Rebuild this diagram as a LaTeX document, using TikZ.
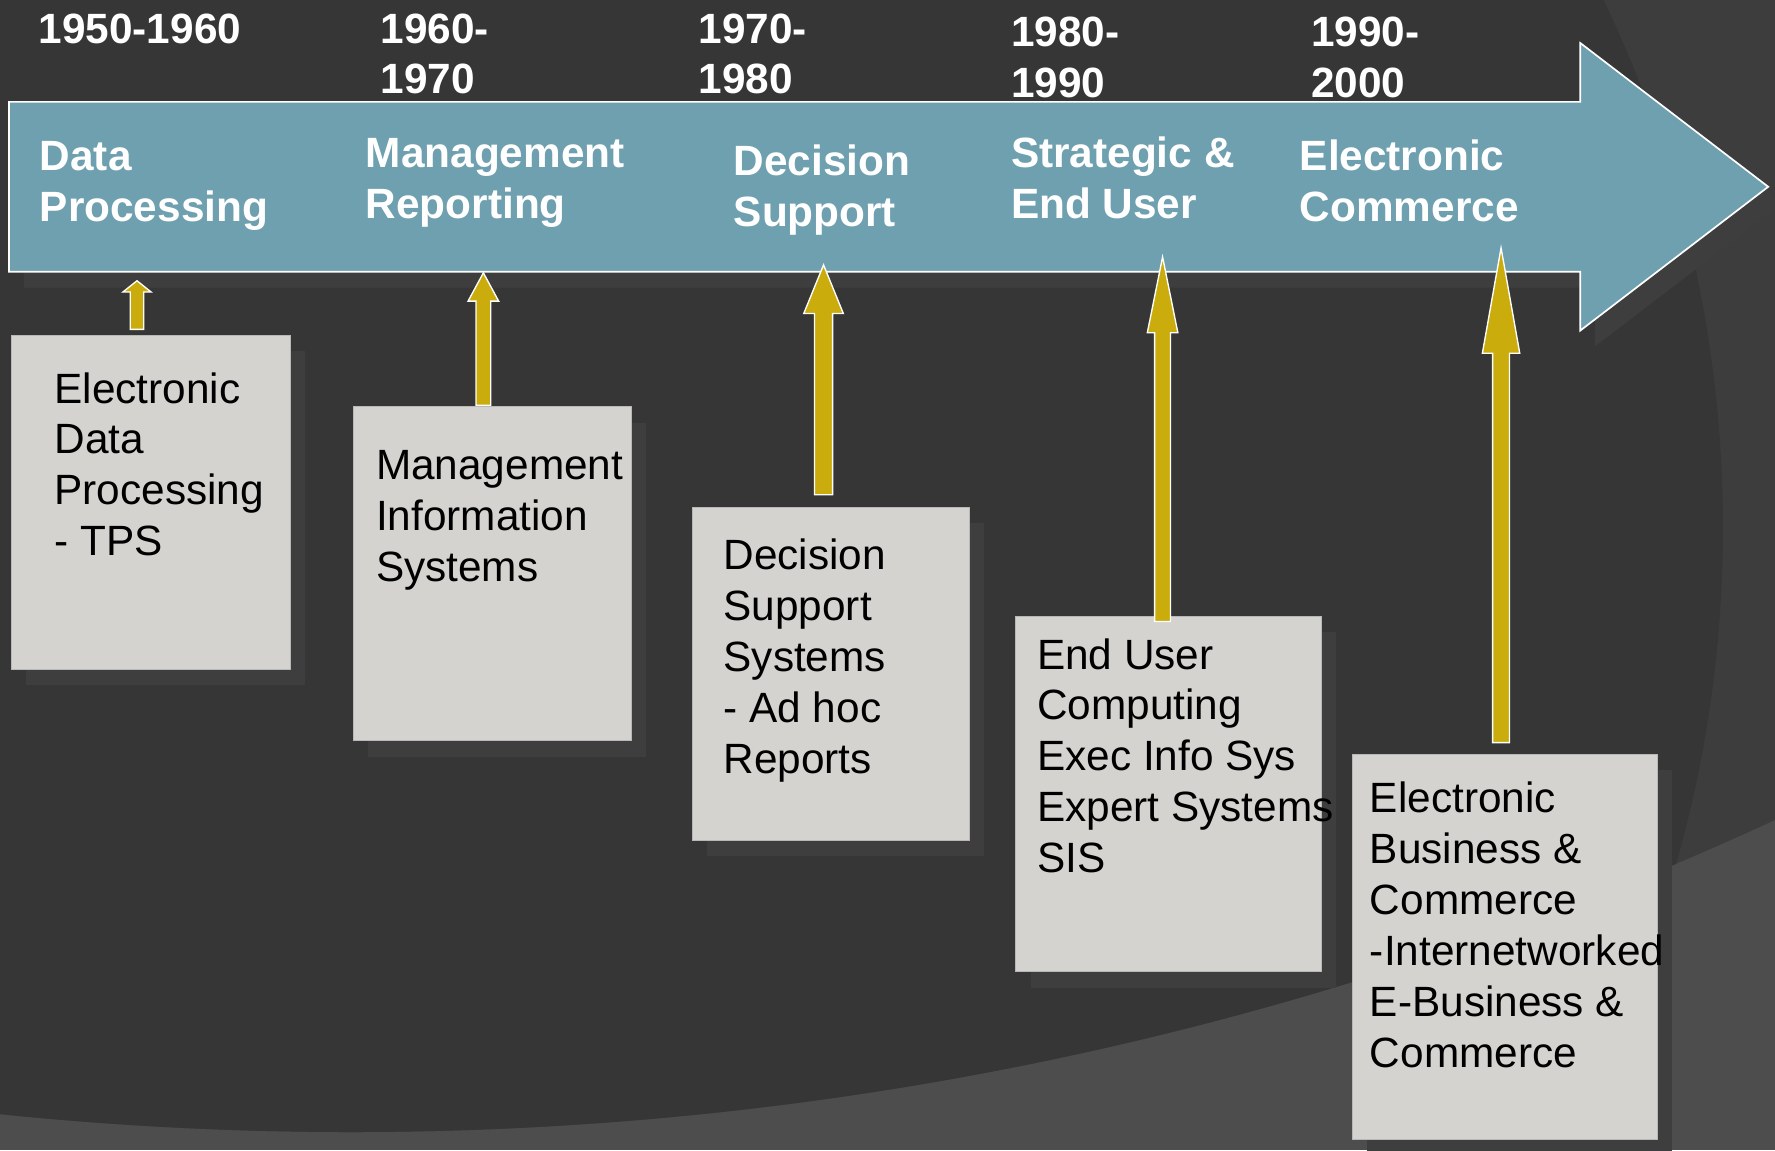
\documentclass[tikz,border=0pt]{standalone}
\usepackage{fontspec}
\setmainfont{Liberation Sans}
\usepackage{tikz}
\usetikzlibrary{calc}
\usetikzlibrary{shadows}
\definecolor{bgdark}{HTML}{363636}
\definecolor{bgmid}{HTML}{3D3D3D}
\definecolor{bglight}{HTML}{4D4D4D}
\definecolor{shadowgray}{HTML}{3E3E3E}
\definecolor{lineblue}{HTML}{6FA0B0}
\definecolor{boxgray}{HTML}{D4D3D0}
\definecolor{boxedge}{HTML}{B8B8B8}
\definecolor{gold}{HTML}{CAAC0C}
\newcommand{\slidefont}{\fontsize{37.4}{45}\selectfont}
\newcommand{\panel}[5]{ \node[infobox, minimum width=#4, minimum height=#5] (#1) at ( #2 , #3 ) {};}
\newcommand{\goldarrow}[5]{ \draw[white, line width=1.2pt, fill=gold] ($(#1)+(-#3,0)$) -- ($(#2)+(-#3,#5)$) -- ($(#2)+(-#4,#5)$) -- (#2) -- ($(#2)+(#4,#5)$) -- ($(#2)+(#3,#5)$) -- ($(#1)+(#3,0)$) -- cycle;}
\tikzset{
  dropgray/.style={drop shadow={shadow xshift=13pt, shadow yshift=-14pt, fill=shadowgray, opacity=1}},
  infobox/.style={dropgray, fill=boxgray, draw=boxedge, line width=0.8pt, inner sep=0pt, anchor=north west},
  timeline/.style={dropgray, fill=lineblue, draw=white, line width=1.5pt},
  yeartext/.style={text=white, font=\slidefont\bfseries, align=left, inner sep=0pt, anchor=base west},
  boxtext/.style={text=black, font=\slidefont, align=left, inner sep=0pt, anchor=base west}
}
\begin{document}
\begin{tikzpicture}[x=1pt,y=-1pt]
        \useasboundingbox (0,0) rectangle (1568,1016);
        % background
        \fill[bglight] (0,0) rectangle (1568,1016);
        \begin{scope}
        \clip (0,0) rectangle (1568,1016);
        \fill[bgmid] (310,-2000) circle[radius=3000];
        \clip (310,-2000) circle[radius=3000];
        \fill[bgdark] (442,466) circle[radius=1080];
        \end{scope}

        % timeline arrow
        \draw[timeline] (8,90) -- (1396,90) -- (1396,38) -- (1562,165) -- (1396,292) -- (1396,240) -- (8,240) -- cycle;

        % years (base = last line)
        \node[yeartext] (y1) at (34,38) {1950-1960};
        \node[yeartext] (y2) at (336,83) {1960-\\1970};
        \node[yeartext] (y3) at (617,83) {1970-\\1980};
        \node[yeartext] (y4) at (893,86) {1980-\\1990};
        \node[yeartext] (y5) at (1158,86) {1990-\\2000};

        % stages
        \node[yeartext] (s1) at (35,196) {Data\\Processing};
        \node[yeartext] (s2) at (323,193) {Management\\Reporting};
        \node[yeartext] (s3) at (648,200) {Decision\\Support};
        \node[yeartext] (s4) at (893,193) {Strategic \&\\End User};
        \node[yeartext] (s5) at (1148,196) {Electronic\\Commerce};

        % boxes
        \panel{b1}{10}{296}{246}{295}
        \panel{b2}{312}{359}{245}{295}
        \panel{b3}{611}{448}{245}{294}
        \panel{b4}{897}{544}{270}{314}
        \panel{b5}{1194}{666}{270}{340}

        % box texts
        \node[boxtext] (t1) at (48,491) {Electronic\\Data\\Processing\\- TPS};
        \node[boxtext] (t2) at (332,514) {Management\\Information\\Systems};
        \node[boxtext] (t3) at (639,683) {Decision\\Support\\Systems\\- Ad hoc\\Reports};
        \node[boxtext] (t4) at (916,771) {End User\\Computing\\Exec Info Sys\\Expert Systems\\SIS};
        \node[boxtext] (t5) at (1210,943) {Electronic\\Business \&\\Commerce\\-Internetworked\\E-Business \&\\Commerce};

        % arrow ends
        \coordinate (a1) at (121,291);
        \coordinate (h1) at (121,248);
        \coordinate (a2) at (427,358);
        \coordinate (h2) at (427,241);
        \coordinate (a3) at (727.5,437);
        \coordinate (h3) at (727.5,234);
        \coordinate (a4) at (1027,549);
        \coordinate (h4) at (1027,227);
        \coordinate (a5) at (1326,656);
        \coordinate (h5) at (1326,219);

        % arrows
        \goldarrow{a1}{h1}{6}{12.5}{10}
        \goldarrow{a2}{h2}{6.5}{13.5}{25}
        \goldarrow{a3}{h3}{8}{17.5}{43}
        \goldarrow{a4}{h4}{7}{13.5}{67}
        \goldarrow{a5}{h5}{7.5}{16.5}{93}
\end{tikzpicture}
\end{document}
